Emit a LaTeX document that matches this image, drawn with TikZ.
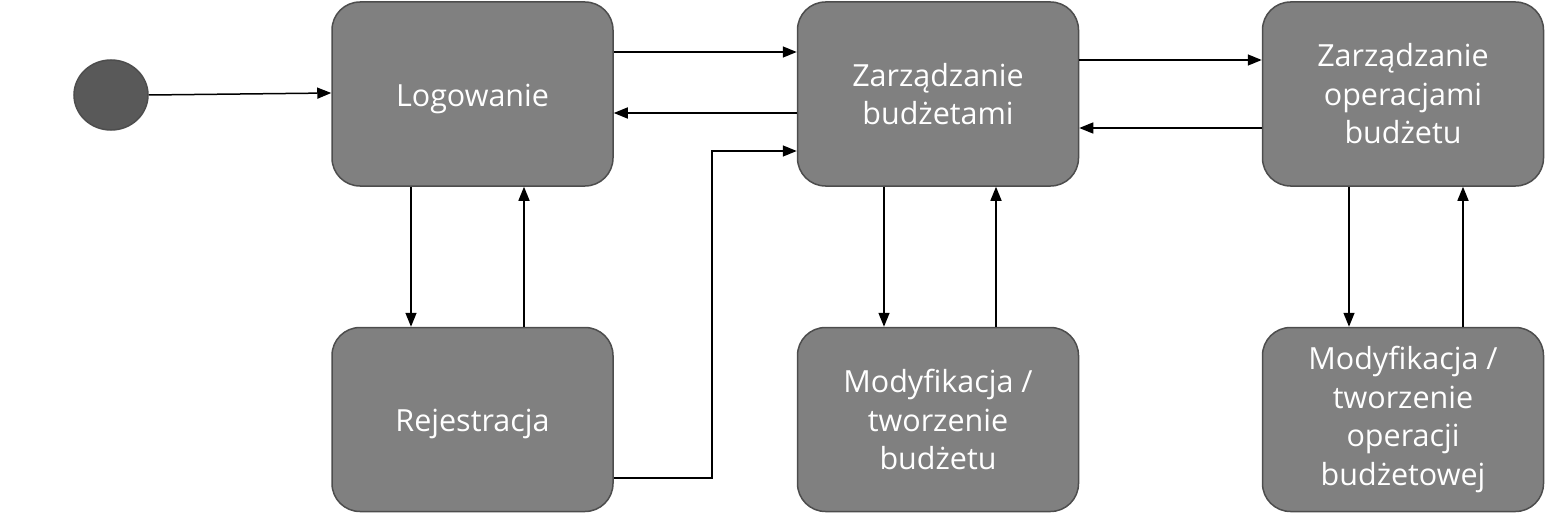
\documentclass[tikz,border=0pt]{standalone}
\usepackage{fontspec}
\setmainfont{Open Sans}
\usetikzlibrary{arrows.meta,calc,shapes.geometric}
\definecolor{boxfill}{HTML}{808080}
\definecolor{boxline}{HTML}{4D4D4D}
\definecolor{startfill}{HTML}{595959}
\begin{document}
\begin{tikzpicture}[x=1pt,y=-1pt,
  statebox/.style={draw=boxline, line width=1.5pt, fill=boxfill, rounded corners=28pt,
    minimum width=281pt, minimum height=184pt, inner sep=0pt, text=white,
    align=center, font=\fontsize{30.5}{38.5}\selectfont},
  startnode/.style={ellipse, draw=boxline, line width=1.5pt, fill=startfill,
    minimum width=74pt, minimum height=70pt, inner sep=0pt},
  arr/.style={draw=black, line width=1.5pt, -{Triangle[length=14pt,width=11pt]}}]
\useasboundingbox (0,0) rectangle (1545,519);
\node[startnode] (start) at (111,95) {};
\node[statebox] (log) at (472.5,94) {\raisebox{-13pt}[0pt][0pt]{Logowanie}};
\node[statebox] (rej) at (472.5,419.5) {\raisebox{-12pt}[0pt][0pt]{Rejestracja}};
\node[statebox] (zb) at (938,94) {Zarządzanie\\budżetami};
\node[statebox] (mb) at (938,419.5) {Modyfikacja /\\tworzenie\\budżetu};
\node[statebox] (zo) at (1403,94) {Zarządzanie\\operacjami\\budżetu};
\node[statebox] (mo) at (1403,419.5) {Modyfikacja /\\tworzenie\\operacji\\budżetowej};
\draw[arr] (start.east) -- ([yshift=1pt]log.west);
\draw[arr] ([yshift=42pt]log.east) -- ([yshift=42pt]zb.west);
\draw[arr] ([yshift=-19pt]zb.west) -- ([yshift=-19pt]log.east);
\draw[arr] ([yshift=-58.5pt]rej.east) -- ++(98,0) |- ([yshift=-57pt]zb.west);
\draw[arr] ([yshift=34pt]zb.east) -- ([yshift=34pt]zo.west);
\draw[arr] ([yshift=-34pt]zo.west) -- ([yshift=-34pt]zb.east);
\draw[arr] ([xshift=-61.5pt]log.south) -- ([xshift=-61.5pt]rej.north);
\draw[arr] ([xshift=51.5pt]rej.north) -- ([xshift=51.5pt]log.south);
\draw[arr] ([xshift=-54pt]zb.south) -- ([xshift=-54pt]mb.north);
\draw[arr] ([xshift=58pt]mb.north) -- ([xshift=58pt]zb.south);
\draw[arr] ([xshift=-54pt]zo.south) -- ([xshift=-54pt]mo.north);
\draw[arr] ([xshift=60pt]mo.north) -- ([xshift=60pt]zo.south);
\end{tikzpicture}
\end{document}
